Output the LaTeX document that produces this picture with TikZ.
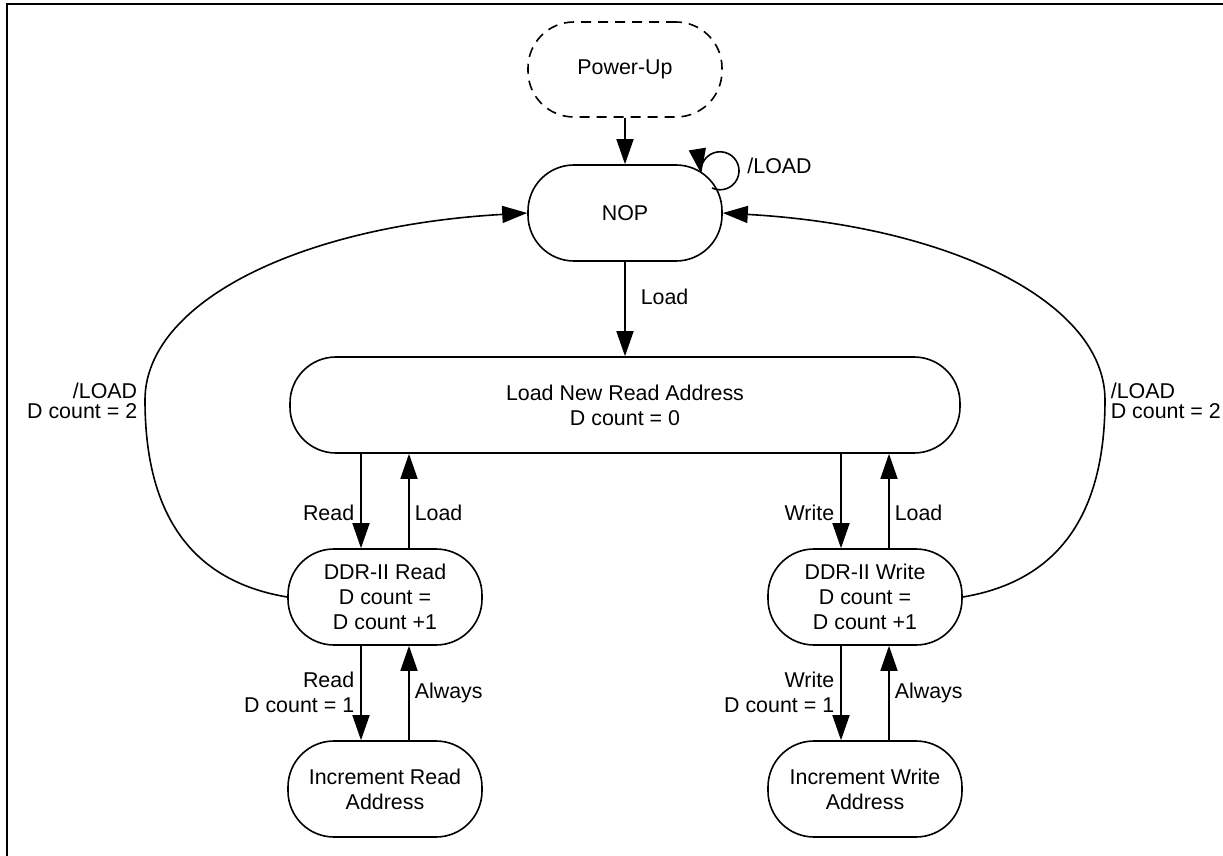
\documentclass[tikz,border=0pt]{standalone}
\usepackage{fontspec}
\setmainfont{Liberation Sans}
\usetikzlibrary{arrows.meta,calc}
\begin{document}
\begin{tikzpicture}[x=0.5pt,y=-0.5pt,
  state/.style={draw, line width=0.8pt, rounded corners=23pt, minimum width=97pt,
    minimum height=48pt, align=center, inner sep=0pt,
    font=\fontsize{10.7}{12.5}\selectfont},
  initstate/.style={state, dashed, dash pattern=on 5pt off 3.5pt, rounded corners=23pt,
    minimum height=47.5pt},
  arr/.style={line width=0.8pt, -{Triangle[length=12.5pt,width=8.5pt]}},
  lbl/.style={inner sep=0pt, align=center, font=\fontsize{10.7}{12.5}\selectfont},
  lbltight/.style={inner sep=0pt, font=\fontsize{10.7}{10}\selectfont},
  frame/.style={line width=1pt}]
\useasboundingbox (0,0) rectangle (1223,856);
\draw[frame] (1223,4.3) -- (7,4.3) -- (7,856);

% states
\node[initstate] (PU) at (625,69.5) {Power-Up};
\node[state] (NOP) at (625,213) {NOP};
\node[state, minimum width=335pt] (LD) at (625,405) {Load New Read Address\\D count = 0};
\node[state] (DR) at (385,597) {DDR-II Read\\D count =\\D count +1};
\node[state] (IR) at (385,789) {Increment Read\\Address};
\node[state] (DW) at (865,597) {DDR-II Write\\D count =\\D count +1};
\node[state] (IW) at (865,789) {Increment Write\\Address};

% power-up
\draw[arr] (PU) -- (NOP);

% self loop
\draw[arr] ($(NOP.center)+(87,-25)$) arc[start angle=-115, end angle=189, radius=9.5pt];
\node[lbl, anchor=west] (sll) at (747,166) {/LOAD};

% NOP -> Load
\draw[arr] (NOP) -- (LD) node[lbl, pos=0.375, anchor=west, xshift=7.5pt] {Load};

% read side
\draw[arr] ([xshift=-12pt]DR.north |- LD.south) -- ([xshift=-12pt]DR.north)
  node[lbl, pos=0.625, anchor=east, xshift=-3pt] {Read};
\draw[arr] ([xshift=12pt]DR.north) -- ([xshift=12pt]DR.north |- LD.south)
  node[lbl, pos=0.375, anchor=west, xshift=2.5pt] {Load};
\draw[arr] ([xshift=-12pt]DR.south) -- ([xshift=-12pt]IR.north)
  node[lbl, pos=0.49, anchor=east, xshift=-3pt, align=right] {Read\\D count = 1};
\draw[arr] ([xshift=12pt]IR.north) -- ([xshift=12pt]DR.south)
  node[lbl, pos=0.5, anchor=west, xshift=2.5pt] {Always};

% write side
\draw[arr] ([xshift=-12pt]DW.north |- LD.south) -- ([xshift=-12pt]DW.north)
  node[lbl, pos=0.625, anchor=east, xshift=-3pt] {Write};
\draw[arr] ([xshift=12pt]DW.north) -- ([xshift=12pt]DW.north |- LD.south)
  node[lbl, pos=0.375, anchor=west, xshift=2.5pt] {Load};
\draw[arr] ([xshift=-12pt]DW.south) -- ([xshift=-12pt]IW.north)
  node[lbl, pos=0.49, anchor=east, xshift=-3pt, align=right] {Write\\D count = 1};
\draw[arr] ([xshift=12pt]IW.north) -- ([xshift=12pt]DW.south)
  node[lbl, pos=0.5, anchor=west, xshift=2.5pt] {Always};

% return curves
\coordinate (lmid) at (145,400);
\coordinate (rmid) at (1105,400);
\draw[arr] (DR.west) .. controls (191,581) and (145,514) .. (lmid)
  node[lbltight, anchor=east, xshift=-3.5pt, yshift=-0.5pt, align=right] {/LOAD\\D count = 2}
  .. controls (145,303) and (298,226) .. (NOP.west);
\draw[arr] (DW.east) .. controls (1059,581) and (1105,514) .. (rmid)
  node[lbltight, anchor=west, xshift=2.5pt, yshift=-0.5pt, align=left] {/LOAD\\D count = 2}
  .. controls (1105,303) and (952,226) .. (NOP.east);
\end{tikzpicture}
\end{document}
